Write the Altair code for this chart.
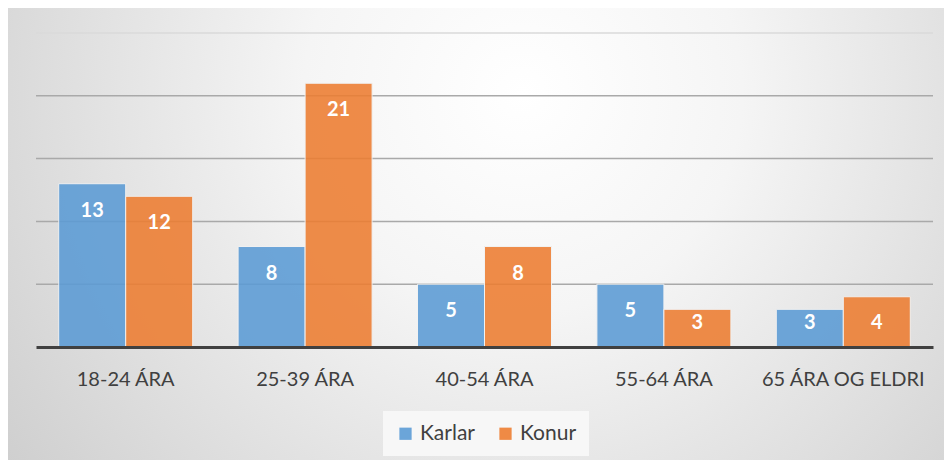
import altair as alt
import pandas as pd

categories = ["18-24 ÁRA", "25-39 ÁRA", "40-54 ÁRA", "55-64 ÁRA", "65 ÁRA OG ELDRI"]
series = ["Karlar", "Konur"]
karlar = [13, 8, 5, 5, 3]
konur = [12, 21, 8, 3, 4]
colors = ["#5B9BD5", "#ED7D31"]
grid_values = [5, 10, 15, 20]
top_value = [25]

rows = []
for c, k, w in zip(categories, karlar, konur):
    rows.append({"cat": c, "kyn": "Karlar", "val": k})
    rows.append({"cat": c, "kyn": "Konur", "val": w})
df = pd.DataFrame(rows)

W, H = 897, 314
PL, PT, PR, PB = 28, 25, 11, 113
FONT = "Lato"

xscale = alt.Scale(domain=categories, paddingInner=0.253, paddingOuter=0.1265)
yscale = alt.Scale(domain=[0, 25])

bg = alt.Chart(alt.Data(values=[{"a": 1}])).mark_rect(
    fill=alt.Gradient(
        gradient="radial",
        stops=[alt.GradientStop(color="#ffffff", offset=0),
               alt.GradientStop(color="#f5f5f5", offset=0.3),
               alt.GradientStop(color="#c6c6c6", offset=1)],
        x1=0.55, y1=0.35, x2=0.55, y2=0.35, r1=0, r2=0.78,
    )
).encode(
    x=alt.value(-PL), x2=alt.value(W + PR),
    y=alt.value(-PT), y2=alt.value(H + PB),
)

grid = alt.Chart(pd.DataFrame({"g": grid_values})).mark_rule(
    strokeWidth=1.5, color="#a9a9a9").encode(
    y=alt.Y("g:Q", scale=yscale, axis=None),
    x=alt.value(0), x2=alt.value(W),
)
grid_top = alt.Chart(pd.DataFrame({"g": top_value})).mark_rule(
    strokeWidth=1.5, color="#dadada").encode(
    y=alt.Y("g:Q", scale=yscale, axis=None),
    x=alt.value(0), x2=alt.value(W),
)

base = alt.Chart(df).encode(
    x=alt.X("cat:N", scale=xscale, sort=categories, title=None,
            axis=alt.Axis(labelAngle=0, ticks=False, domainColor="#404040",
                          domainWidth=3, labelColor="#404040", labelFontSize=20,
                          labelFont=FONT, labelPadding=22, grid=False, zindex=1)),
    xOffset=alt.XOffset("kyn:N", sort=series, scale=alt.Scale(paddingInner=0, paddingOuter=0)),
)

bars = base.mark_bar(opacity=0.88, stroke="#f2f2f2", strokeWidth=1).encode(
    y=alt.Y("val:Q", scale=yscale, title=None, axis=None),
    color=alt.Color("kyn:N", scale=alt.Scale(domain=series, range=colors), title=None,
                    legend=alt.Legend(orient="none", legendX=347, legendY=378,
                                      direction="horizontal", symbolType="square",
                                      symbolSize=150, symbolStrokeWidth=0,
                                      symbolOpacity=0.9,
                                      labelFontSize=21, labelFont=FONT,
                                      labelColor="#404040", columnPadding=20,
                                      padding=12, fillColor="#f7f7f7",
                                      labelOffset=4)),
)

labels = base.transform_calculate(
    pos="max(datum.val - 2.15, 1.91)"
).mark_text(color="white", fontWeight="bold", fontSize=20, font=FONT,
            baseline="middle", align="center").encode(
    y=alt.Y("pos:Q", scale=yscale, axis=None),
    text=alt.Text("val:Q"),
)

chart = alt.layer(bg, grid, grid_top, bars, labels).properties(
    width=W, height=H,
    autosize=alt.AutoSizeParams(type="none"),
    padding={"left": PL, "top": PT, "right": PR, "bottom": PB},
).configure_view(stroke=None).configure(background="#d6d6d6")

chart.save("out.html", embed_options={"renderer": "svg", "actions": False})
